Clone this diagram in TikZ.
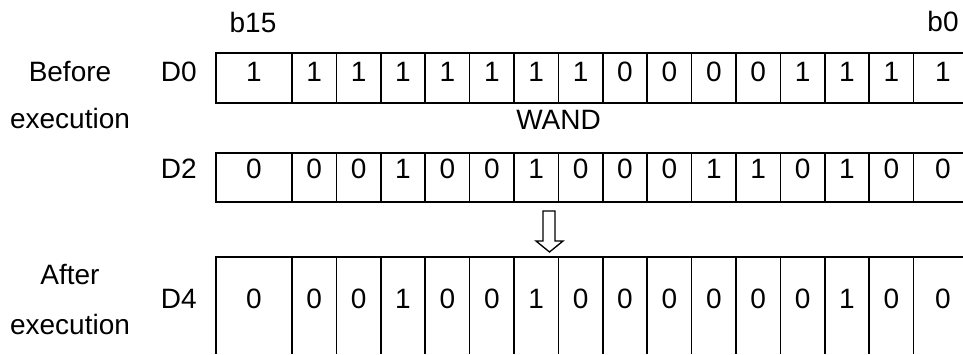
\documentclass[tikz,border=0pt]{standalone}
\usepackage{fontspec}
\setmainfont{Liberation Sans}
\begin{document}
\begin{tikzpicture}[x=0.75pt,y=-0.75pt,
  txt/.style={font=\fontsize{21}{25}\selectfont, inner sep=0pt, anchor=base},
  gridline/.style={line width=1.1pt, black}]
\useasboundingbox (0,0) rectangle (963,354);
% labels
\node[txt] (b15) at (253,32) {b15};
\node[txt] (b0) at (943,31) {b0};
\node[txt] (before) at (70,81) {Before};
\node[txt] (exec1) at (70,128) {execution};
\node[txt] (after) at (70,284) {After};
\node[txt] (exec2) at (70,334) {execution};
\node[txt,anchor=base east] (d0) at (197,81) {D0};
\node[txt,anchor=base east] (d2) at (197,178) {D2};
\node[txt,anchor=base east] (d4) at (197,308) {D4};
\node[txt] (wand) at (558.5,129) {WAND};
% row frames
\foreach \ya/\yb in {53/103,153/202}{
  \draw[gridline] (963,\ya) -- (216,\ya) -- (216,\yb) -- (963,\yb);
  \foreach \k in {0,...,14} \draw[gridline] ({292+44.4*\k},\ya) -- ({292+44.4*\k},\yb);
}
\draw[gridline] (216,354) -- (216,257) -- (963,257);
\foreach \k in {0,...,14} \draw[gridline] ({292+44.4*\k},257) -- ({292+44.4*\k},354);
% digits
\foreach \b [count=\i from 0] in {1,1,1,1,1,1,1,1,0,0,0,0,1,1,1,1}{
  \pgfmathsetmacro\cx{\i==0 ? 254 : (\i==15 ? 943 : 292+44.4*\i-22.2)}
  \node[txt] (a\i) at (\cx,81) {\b};
}
\foreach \b [count=\i from 0] in {0,0,0,1,0,0,1,0,0,0,1,1,0,1,0,0}{
  \pgfmathsetmacro\cx{\i==0 ? 254 : (\i==15 ? 943 : 292+44.4*\i-22.2)}
  \node[txt] (c\i) at (\cx,178) {\b};
}
\foreach \b [count=\i from 0] in {0,0,0,1,0,0,1,0,0,0,0,0,0,1,0,0}{
  \pgfmathsetmacro\cx{\i==0 ? 254 : (\i==15 ? 943 : 292+44.4*\i-22.2)}
  \node[txt] (r\i) at (\cx,308) {\b};
}
% open arrow
\draw[line width=1pt, line join=miter] (543,211) -- (555,211) -- (555,241) -- (563,241) -- (549.5,252) -- (536,241) -- (543,241) -- cycle;
\end{tikzpicture}
\end{document}
